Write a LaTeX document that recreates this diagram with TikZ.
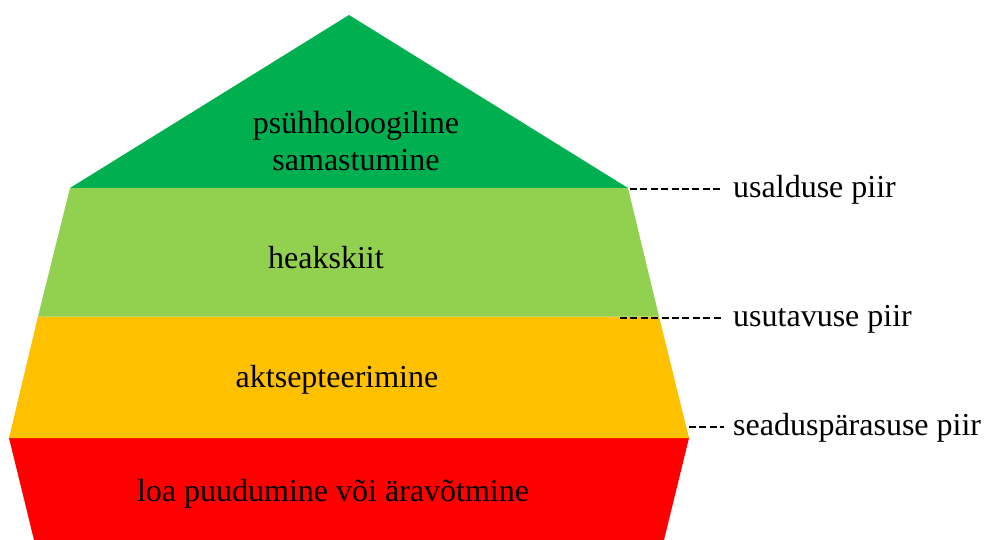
\documentclass[tikz,border=0pt]{standalone}
\usepackage{fontspec}
\setmainfont{Liberation Serif}
\definecolor{dgreen}{HTML}{00B050}
\definecolor{lgreen}{HTML}{92D050}
\definecolor{orng}{HTML}{FFC000}
\definecolor{rd}{HTML}{FF0000}
\tikzset{
  lbl/.style={font=\fontsize{32}{37}\selectfont, align=center, inner sep=0pt},
  side/.style={font=\fontsize{32}{36}\selectfont, anchor=west, inner sep=0pt},
  dline/.style={line width=1.4pt, dash pattern=on 7pt off 3.4pt}
}
\begin{document}
\begin{tikzpicture}[x=1pt,y=-1pt]
\useasboundingbox (0,0) rectangle (985,540);
% layers
\fill[rd] (9,438) -- (689,438) -- (664,540) -- (34,540) -- cycle;
\fill[orng] (38,316.5) -- (659,316.5) -- (689,438) -- (9,438) -- cycle;
\fill[lgreen] (70,188) -- (628,188) -- (659,316.5) -- (38,316.5) -- cycle;
\fill[dgreen] (349,15) -- (628,188) -- (70,188) -- cycle;
% labels
\node[lbl] (l1) at (356,141) {psühholoogiline\\samastumine};
\node[lbl] (l2) at (326,258) {heakskiit};
\node[lbl] (l3) at (337,380) {aktsepteerimine};
\node[lbl] (l4) at (333,494) {loa puudumine või äravõtmine};
% side labels
\node[side] (s1) at (733,190) {usalduse piir};
\node[side] (s2) at (733,319) {usutavuse piir};
\node[side] (s3) at (733,428) {seaduspärasuse piir};
\coordinate (c1) at (630,189);
\coordinate (c2) at (620,318);
\coordinate (c3) at (689,427);
\draw[dline] (c1) -- ([xshift=-10pt]s1.west|-c1);
\draw[dline] (c2) -- ([xshift=-10pt]s2.west|-c2);
\draw[dline] (c3) -- ([xshift=-9pt]s3.west|-c3);
\end{tikzpicture}
\end{document}
